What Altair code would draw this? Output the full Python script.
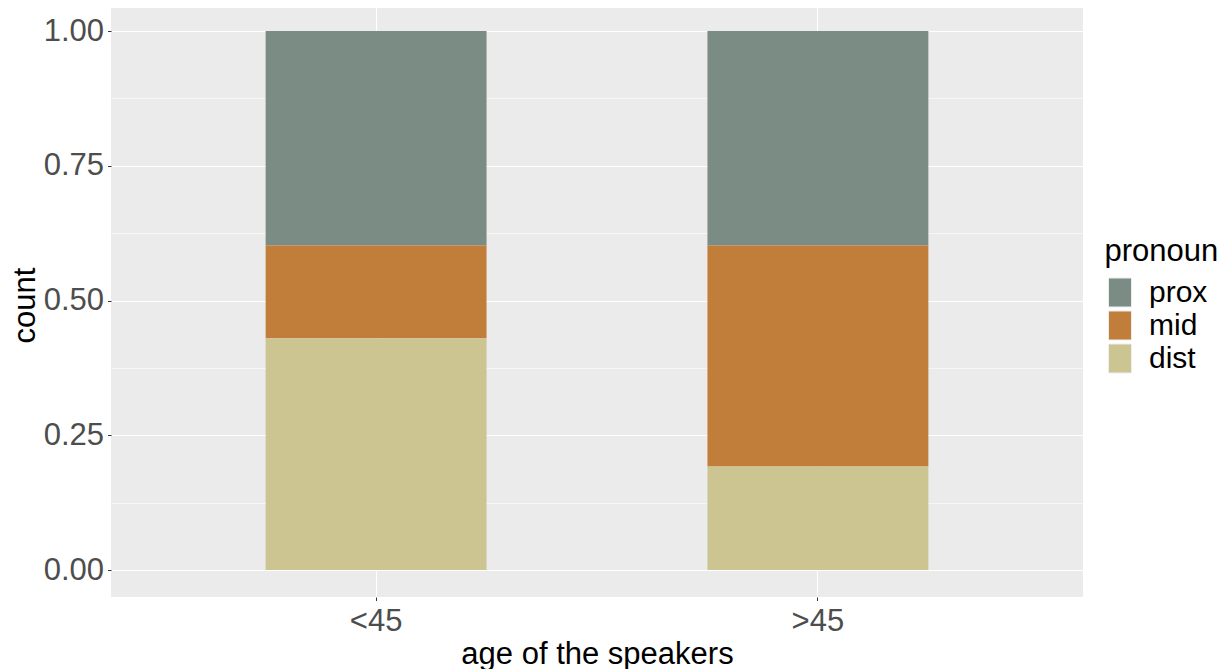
import altair as alt
import pandas as pd

# ---- data ----
ages = ["<45", "<45", "<45", ">45", ">45", ">45"]
pronouns = ["prox", "mid", "dist", "prox", "mid", "dist"]
shares = [0.398, 0.172, 0.430, 0.398, 0.410, 0.192]
stack_rank = [2, 1, 0, 2, 1, 0]

age_levels = ["<45", ">45"]
pronoun_levels = ["prox", "mid", "dist"]
pronoun_colors = ["#7A8C84", "#C17D3A", "#CCC591"]
y_major = [0.0, 0.25, 0.5, 0.75, 1.0]
y_minor = [0.125, 0.375, 0.625, 0.875]

df = pd.DataFrame({
    "age": ages,
    "pronoun": pronouns,
    "share": shares,
    "rank": stack_rank,
})

FONT = "Liberation Sans"
y_scale = alt.Scale(domain=[-0.05, 1.0427], nice=False, zero=False)
x_scale = alt.Scale(domain=age_levels, paddingInner=0.5, paddingOuter=0.35)

x_axis = alt.Axis(
    bandPosition=0.5, grid=True, gridColor="white", gridWidth=1.1,
    labelAngle=0, tickSize=3.5, tickColor="#333333", tickWidth=1,
    labelFont=FONT, labelFontSize=31, labelColor="#4D4D4D",
    labelBaseline="alphabetic", labelPadding=29.5,
    titleFont=FONT, titleFontSize=31, titleFontWeight="normal",
    titleColor="black", titleBaseline="alphabetic", titleY=66,
    domain=False,
)

main_y_axis = alt.Axis(
    values=y_major, format=".2f", grid=True, gridColor="white", gridWidth=1.1,
    tickSize=3.5, tickColor="#333333", tickWidth=1,
    labelFont=FONT, labelFontSize=31, labelColor="#4D4D4D", labelPadding=4,
    titleFont=FONT, titleFontSize=31, titleFontWeight="normal",
    titleColor="black", titleBaseline="alphabetic", titleX=-77, titleY=297,
    domain=False, orient="left",
)

minor_y_axis = alt.Axis(
    values=y_minor, grid=True, gridColor="white", gridWidth=0.55,
    labels=False, ticks=False, domain=False, title=None, orient="right",
)

minor = alt.Chart(df).mark_bar(opacity=0).encode(
    x=alt.X("age:N", sort=age_levels, scale=x_scale, axis=x_axis,
            title="age of the speakers"),
    y=alt.Y("share:Q", stack=None, scale=y_scale, axis=minor_y_axis),
)

bars = alt.Chart(df).mark_bar().encode(
    x=alt.X("age:N", sort=age_levels, scale=x_scale, axis=x_axis,
            title="age of the speakers"),
    y=alt.Y("share:Q", stack="zero", scale=y_scale, axis=main_y_axis,
            title="count"),
    color=alt.Color(
        "pronoun:N",
        scale=alt.Scale(domain=pronoun_levels, range=pronoun_colors),
        legend=alt.Legend(
            title="pronoun", orient="none", legendX=993.5, legendY=229,
            titleFont=FONT, titleFontSize=31, titleFontWeight="normal",
            titleColor="black", titlePadding=9,
            labelFont=FONT, labelFontSize=30, labelColor="black",
            labelOffset=13.5,
            symbolType="M-0.767,-0.967H0.767V0.967H-0.767Z",
            symbolSize=900, symbolStrokeColor="#EEEEEE",
            symbolStrokeWidth=1, symbolOpacity=1, rowPadding=-4,
        ),
    ),
    order=alt.Order("rank:Q", sort="ascending"),
)

chart = (
    alt.layer(minor, bars)
    .resolve_axis(y="independent")
    .properties(
        width=972, height=589, autosize="none",
        padding={"left": 103, "top": 0, "right": 135, "bottom": 72},
        background="white",
    )
    .configure_view(fill="#EBEBEB", strokeWidth=0)
)

chart.save("out.html", embed_options={"renderer": "svg", "actions": False})
